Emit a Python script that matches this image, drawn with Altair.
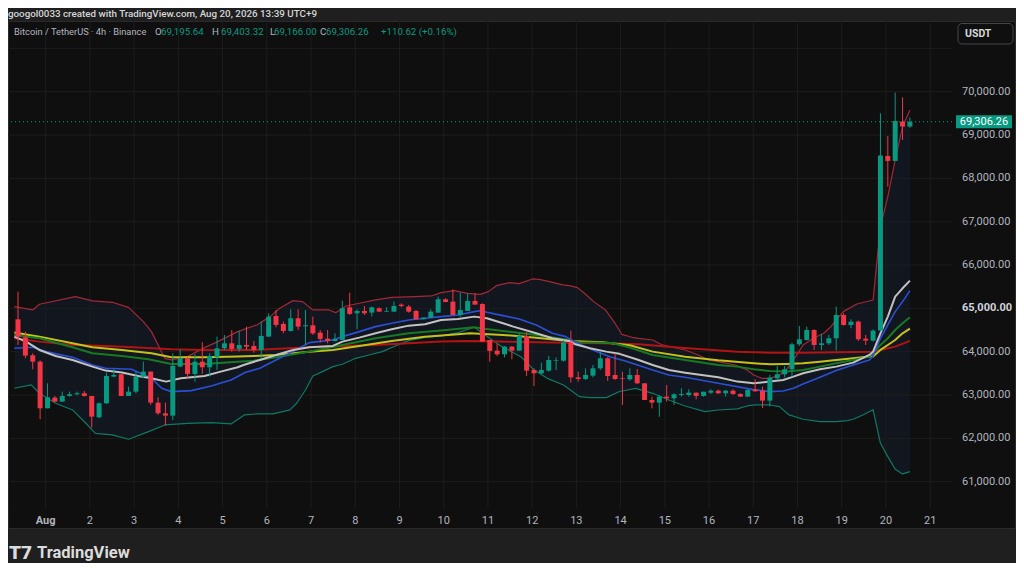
import altair as alt
import numpy as np
import pandas as pd

# ---------------- candles (BTC/USDT 4h, Binance, UTC+9) ----------------
START = "2026-07-31 09:00"
opens = [64747, 64332, 63917, 63770, 62693, 62940, 62847, 62978, 63017, 63040,
         62978, 62486, 62809, 63424, 63478, 62978, 63078, 63424, 63540, 62824,
         62578, 62524, 63655, 63847, 63486, 63770, 63640, 63870, 64078, 64193,
         64063, 64155, 64132, 64040, 64347, 64824, 64640, 64478, 64771, 64586,
         64609, 64440, 64301, 64247, 64271, 65024, 64886, 64940, 64901, 65001,
         64924, 64924, 65086, 65040, 64940, 64747, 64786, 64901, 65209, 65155,
         64847, 64940, 65171, 65101, 64271, 64024, 63939, 64116, 64024, 64362,
         63577, 63501, 63562, 63793, 63793, 64208, 63408, 63370, 63447, 63616,
         63847, 63462, 63393, 63362, 63462, 63270, 62885, 62824, 62962, 62924,
         63001, 63001, 63054, 62978, 63054, 63100, 63039, 63100, 63024, 62962,
         63131, 63100, 62870, 63386, 63478, 63593, 64170, 64270, 64501, 64155,
         64193, 64309, 64847, 64616, 64694, 64300, 64255, 64486, 68517, 68402,
         69309, 69195.64]
highs = [65386, 64463, 63963, 63800, 63270, 62978, 63078, 63078, 63078, 63093,
         62978, 62824, 63517, 63594, 63478, 63193, 63540, 63770, 63540, 62950,
         62824, 63963, 64055, 63870, 63940, 64217, 63963, 64347, 64386, 64501,
         64478, 64578, 64247, 64694, 64886, 64963, 64694, 64978, 64978, 64963,
         64809, 64501, 64501, 64424, 65178, 65363, 64978, 65055, 65040, 65024,
         65024, 65155, 65117, 65078, 64963, 64786, 64978, 65271, 65232, 65440,
         65363, 65347, 65347, 65117, 64271, 64178, 64131, 64131, 64424, 64485,
         63616, 63747, 63901, 63870, 64270, 64485, 63539, 63616, 63693, 64001,
         63870, 63962, 63539, 63616, 63601, 63270, 62962, 63001, 63231, 63039,
         63154, 63131, 63054, 63077, 63131, 63131, 63116, 63131, 63039, 63131,
         63362, 63193, 63463, 63670, 63670, 64209, 64593, 64578, 64516, 64409,
         64386, 65040, 64886, 64747, 64717, 64386, 64517, 69502, 68979, 69979,
         69871, 69403.32]
lows = [64155, 63847, 63594, 62440, 62693, 62832, 62847, 62963, 62990, 62963,
        62247, 62463, 62793, 63409, 62978, 62978, 63040, 63386, 62770, 62540,
        62293, 62424, 63640, 63386, 63309, 63486, 63424, 63580, 64040, 64001,
        64001, 64040, 63978, 63847, 64347, 64563, 64424, 64463, 64501, 64155,
        64386, 64209, 64193, 64232, 64271, 64847, 64517, 64847, 64809, 64924,
        64924, 64924, 65024, 64901, 64732, 64747, 64771, 64901, 65140, 64847,
        64809, 64940, 65086, 64232, 63770, 63901, 63870, 63824, 64024, 63439,
        63208, 63485, 63539, 63577, 63770, 63285, 63308, 63347, 63408, 63577,
        63324, 63347, 62770, 63331, 63254, 62885, 62693, 62500, 62847, 62770,
        62962, 62962, 62901, 62962, 63024, 63024, 62962, 63001, 62962, 62962,
        63077, 62700, 62732, 63363, 63409, 63424, 64132, 64255, 64040, 64040,
        64155, 64024, 64601, 64540, 64247, 64155, 64232, 64463, 67809, 68402,
        68886, 69166.00]
closes = [64347, 63909, 63770, 62693, 62947, 62847, 62978, 63017, 63040, 62978,
          62501, 62809, 63440, 63463, 62978, 63078, 63424, 63540, 62824, 62578,
          62524, 63670, 63847, 63486, 63770, 63640, 63901, 64078, 64193, 64063,
          64155, 64117, 64040, 64363, 64809, 64617, 64478, 64771, 64578, 64609,
          64424, 64294, 64247, 64294, 65001, 64871, 64940, 64886, 65024, 64924,
          64940, 65055, 65055, 64924, 64747, 64786, 64924, 65209, 65147, 64847,
          64963, 65171, 65086, 64232, 64017, 63939, 64116, 64024, 64362, 63562,
          63501, 63577, 63808, 63808, 64208, 63408, 63370, 63462, 63616, 63847,
          63439, 63370, 63377, 63462, 63270, 62885, 62824, 62962, 62924, 63016,
          63024, 63054, 62978, 63077, 63100, 63039, 63100, 63024, 62962, 63116,
          63085, 62870, 63401, 63478, 63593, 64170, 64286, 64501, 64155, 64193,
          64309, 64847, 64616, 64693, 64286, 64255, 64486, 68525, 68402, 69325,
          69195.64, 69306.26]

# ---------------- indicator lines (position = candle index, value = price) ----------------
bb_upper_idx = [-0.5, 2.0, 2.9, 7.8, 10.1, 12.8, 15.0, 17.0, 18.1, 19.9, 20.8, 23.0, 25.3, 27.1, 29.8,
                32.4, 34.2, 35.5, 37.3, 38.6, 40.0, 42.2, 43.1, 44.5, 46.3, 48.5, 50.7, 53.9, 56.1,
                57.4, 59.2, 61.0, 62.7, 63.8, 64.9, 66.7, 68.0, 69.8, 70.7, 72.1, 73.9, 74.8, 75.9,
                77.0, 78.1, 79.7, 81.0, 81.9, 83.3, 84.2, 86.1, 87.4, 90.5, 92.3, 93.7, 95.0, 97.3,
                98.9, 99.8, 100.9, 102.0, 103.3, 104.2, 105.5, 106.5, 107.9, 109.3, 110.2, 111.0,
                112.0, 113.8, 116.0, 117, 118, 119, 120, 121]
bb_upper = [65040, 64963, 65094, 65271, 65171, 65140, 65024, 64694, 64463, 63847, 63809, 63886, 64094,
            64232, 64463, 64617, 64809, 65001, 65178, 65155, 64963, 64963, 64901, 65055, 65117, 65194,
            65255, 65271, 65286, 65363, 65409, 65347, 65324, 65386, 65524, 65593, 65570, 65678, 65670,
            65617, 65540, 65524, 65478, 65324, 65155, 64963, 64655, 64401, 64332, 64309, 64270, 64155,
            64039, 63924, 63808, 63770, 63693, 63578, 63463, 63386, 63386, 63463, 63578, 63886, 64155,
            64309, 64424, 64563, 64732, 64930, 65100, 65193, 66886, 67578, 68425, 69194, 69579]
bb_lower_idx = [-0.5, 1.8, 2.9, 5.1, 7.4, 9.2, 10.5, 12.8, 15.0, 17.7, 19.9, 23.0, 26.2, 28.9, 30.7,
                32.4, 34.6, 36.9, 37.8, 39.0, 40.0, 41.3, 42.7, 44.0, 45.8, 47.6, 49.4, 51.2, 53.0,
                55.2, 57.4, 59.7, 61.9, 63.7, 65.5, 68.2, 70.0, 71.8, 74.0, 76.2, 77.6, 79.8, 81.6,
                83.8, 86.1, 88.3, 90.5, 93.2, 95.0, 97.6, 98.9, 100.0, 102.0, 103.3, 104.6, 106.5,
                108.8, 111.0, 112.5, 113.3, 114.6, 116.0, 117, 118, 119, 120, 121]
bb_lower = [63155, 63232, 63040, 62809, 62655, 62347, 62116, 62078, 61978, 62155, 62309, 62347, 62363,
            62332, 62540, 62563, 62563, 62655, 62809, 63116, 63440, 63540, 63655, 63709, 63847, 63924,
            64001, 64132, 64255, 64332, 64363, 64440, 64563, 64347, 64130, 63885, 63577, 63385, 63231,
            62962, 62939, 62939, 63080, 63154, 63039, 62885, 62747, 62616, 62654, 62680, 62747, 62770,
            62770, 62732, 62540, 62440, 62386, 62386, 62409, 62440, 62540, 62660, 61886, 61578, 61286,
            61178, 61232]
white_idx = [-0.5, 1.1, 2.9, 5.1, 7.4, 10.1, 11.9, 14.1, 16.3, 18.1, 20.1, 22.1, 25.3, 27.5, 29.8,
             30.6, 32.8, 35.0, 37.3, 39.5, 42.7, 44.0, 46.3, 48.5, 50.7, 53.0, 55.2, 57.4, 59.7, 61.9,
             63.6, 65.8, 67.2, 70.3, 72.5, 74.8, 75.6, 77.6, 79.8, 81.6, 84.0, 86.1, 88.3, 90.5, 95.0,
             97.6, 99.8, 102.0, 103.8, 105.2, 106.5, 108.8, 111.0, 113.3, 115.5, 116.0, 117, 118, 119,
             120, 121]
white_ma = [64347, 64232, 64040, 63901, 63809, 63655, 63563, 63517, 63440, 63386, 63309, 63386, 63440,
            63540, 63640, 63693, 63809, 63924, 64040, 64101, 64132, 64232, 64324, 64424, 64517, 64601,
            64632, 64732, 64755, 64809, 64770, 64655, 64578, 64424, 64309, 64247, 64170, 64078, 64001,
            63950, 63820, 63693, 63577, 63516, 63408, 63309, 63270, 63309, 63347, 63424, 63501, 63594,
            63655, 63747, 63924, 64001, 64424, 64809, 65270, 65463, 65640]
blue_idx = [-0.5, 2.0, 3.8, 7.4, 10.1, 11.9, 15.4, 18.1, 19.5, 20.8, 23.5, 26.2, 28.9, 30.8, 32.8,
            35.0, 37.3, 39.5, 42.7, 44.0, 46.3, 48.5, 50.7, 53.0, 55.2, 57.4, 59.7, 61.9, 62.8, 63.6,
            65.8, 68.0, 70.3, 72.5, 74.3, 75.6, 78.0, 80.3, 82.5, 86.1, 88.3, 90.5, 95.0, 99.6, 102.0,
            103.8, 105.2, 106.5, 108.8, 111.0, 113.3, 115.5, 116.0, 117, 118, 119, 120, 121]
blue_ma = [64078, 64101, 64001, 63870, 63694, 63617, 63594, 63386, 63155, 63078, 63101, 63209, 63347,
           63520, 63617, 63809, 64001, 64209, 64271, 64347, 64463, 64578, 64655, 64732, 64771, 64809,
           64847, 64924, 64947, 64909, 64832, 64755, 64616, 64424, 64347, 64216, 64039, 63885, 63780,
           63577, 63462, 63408, 63270, 63130, 63078, 63093, 63155, 63255, 63409, 63563, 63693, 63809,
           63900, 64309, 64617, 64924, 65155, 65409]
green_idx = [-0.5, 2.9, 7.4, 10.1, 14.1, 17.7, 20.8, 25.3, 29.8, 32.0, 35.0, 39.5, 44.0, 48.5, 53.0,
             57.4, 61.9, 63.6, 65.8, 70.3, 74.8, 76.1, 80.5, 82.9, 86.1, 90.5, 95.0, 97.6, 99.8, 102.0,
             104.2, 106.5, 108.8, 111.0, 113.3, 115.5, 116.0, 117, 118, 119, 120, 121]
green_ma = [64386, 64309, 64101, 63963, 63901, 63824, 63717, 63717, 63770, 63793, 63870, 64001, 64155,
            64309, 64424, 64486, 64563, 64524, 64478, 64386, 64270, 64216, 64200, 64100, 63924, 63808,
            63693, 63655, 63594, 63555, 63540, 63578, 63655, 63732, 63809, 63886, 63963, 64155, 64309,
            64501, 64655, 64794]
yellow_idx = [-0.5, 2.9, 7.4, 10.1, 14.1, 18.1, 20.8, 25.3, 29.8, 32.0, 35.0, 39.5, 42.7, 46.3, 50.7,
              55.2, 59.7, 61.3, 65.8, 70.3, 74.8, 79.3, 83.0, 86.1, 90.5, 95.0, 99.8, 102.0, 104.2,
              106.5, 108.8, 111.0, 113.3, 115.5, 116.0, 117, 118, 119, 120, 121]
yellow_ma = [64440, 64347, 64193, 64101, 64040, 63963, 63870, 63870, 63886, 63901, 63924, 64001, 64040,
             64132, 64247, 64347, 64401, 64424, 64386, 64324, 64247, 64216, 64150, 64001, 63885, 63800,
             63732, 63709, 63717, 63732, 63770, 63809, 63847, 63886, 63886, 64040, 64155, 64270, 64424,
             64532]
red_idx = [-0.5, 2.9, 7.4, 11.9, 16.3, 20.8, 25.3, 32.0, 39.5, 48.5, 57.4, 61.3, 70.3, 79.3, 84.2,
           90.0, 97.6, 102.0, 106.5, 111.0, 116.0, 117, 119, 121]
red_ma = [64309, 64232, 64155, 64132, 64094, 64055, 64040, 64040, 64101, 64155, 64232, 64247, 64216,
          64193, 64170, 64090, 64001, 63978, 63978, 63986, 64001, 64040, 64117, 64248]

# ---------------- axis ticks / labels ----------------
price_ticks = [61000, 62000, 63000, 64000, 65000, 66000, 67000, 68000, 69000, 70000]
price_labels = ["61,000.00", "62,000.00", "63,000.00", "64,000.00", "65,000.00",
                "66,000.00", "67,000.00", "68,000.00", "69,000.00", "70,000.00"]
price_bold = [False, False, False, False, True, False, False, False, False, False]
grid_prices = [61000, 62000, 63000, 64000, 65000, 66000, 67000, 68000, 69000, 70000, 71000]
day_ticks = list(range(1, 22))
day_labels = ["Aug", "2", "3", "4", "5", "6", "7", "8", "9", "10", "11", "12", "13", "14",
              "15", "16", "17", "18", "19", "20", "21"]
last_price = [69306.26]
last_label = ["69,306.26"]

# ---------------- styling ----------------
FONT = "Roboto"
OUTER = "#1f1f1f"
PANEL = "#0f0f0f"
GRID = "#1d1d1d"
UP = "#089981"
DOWN = "#f23645"
TXT = "#b2b5be"

start = pd.Timestamp(START)


def at(idx):
    return start + pd.to_timedelta(np.asarray(idx, dtype=float) * 4, unit="h")


xs = alt.Scale(domain=[alt.DateTime(year=2026, month=7, date=31, hours=6, minutes=17),
                       alt.DateTime(year=2026, month=8, date=21, hours=9, minutes=7)])
ys = alt.Scale(domain=[60392, 71632], nice=False, zero=False)
X = lambda f: alt.X(f, scale=xs, axis=None)
Y = lambda f: alt.Y(f, scale=ys, axis=None)

candles = pd.DataFrame({"t": at(range(len(opens))), "open": opens, "high": highs,
                        "low": lows, "close": closes})
candles["dir"] = np.where(candles["close"] >= candles["open"], "up", "down")
one = pd.DataFrame({"k": [0]})


def series(idx, vals):
    return pd.DataFrame({"t": at(list(idx)[:len(vals)]), "v": list(vals)[:len(idx)]})


def line(idx, vals, color, width):
    return alt.Chart(series(idx, vals)).mark_line(
        color=color, strokeWidth=width, clip=True, strokeJoin="round").encode(
        x=X("t:T"), y=Y("v:Q"))


def label(txt, x, y, color, size=10.5, weight="normal", align="left"):
    return alt.Chart(one).mark_text(
        text=txt, color=color, fontSize=size, fontWeight=weight, align=align,
        baseline="middle", font=FONT).encode(x=alt.value(x), y=alt.value(y))


panel = alt.Chart(one).mark_rect(fill=PANEL, stroke="#2a2a2a", strokeWidth=1).encode(
    x=alt.value(0.5), x2=alt.value(1007.5), y=alt.value(0.5), y2=alt.value(507.5))

bb_fill = alt.Chart(series(bb_upper_idx, bb_upper)).mark_area(color="#12161f", clip=True).encode(
    x=X("t:T"), y=Y("v:Q"), y2=alt.value(487))
bb_mask = alt.Chart(series(bb_lower_idx, bb_lower)).mark_area(color=PANEL, clip=True).encode(
    x=X("t:T"), y=Y("v:Q"), y2=alt.value(487))

hgrid = alt.Chart(pd.DataFrame({"p": grid_prices})).mark_rule(color=GRID, strokeWidth=1).encode(
    y=Y("p:Q"))
days_df = pd.DataFrame({"t": [pd.Timestamp(2026, 8, d) for d in day_ticks], "lab": day_labels})
vgrid = alt.Chart(days_df).mark_rule(color=GRID, strokeWidth=1).encode(x=X("t:T"))

upper_l = line(bb_upper_idx, bb_upper, "#a3283a", 1.2)
lower_l = line(bb_lower_idx, bb_lower, "#0f7a63", 1.2)
red_l = line(red_idx, red_ma, "#b01414", 2.0)
yellow_l = line(yellow_idx, yellow_ma, "#c2c21a", 2.0)
green_l = line(green_idx, green_ma, "#167a22", 2.0)
blue_l = line(blue_idx, blue_ma, "#2b50d8", 1.6)
white_l = line(white_idx, white_ma, "#c2c2c2", 2.0)

lp = pd.DataFrame({"p": last_price, "s": last_label})
price_line = alt.Chart(lp).mark_rule(color=UP, strokeDash=[1, 3], strokeWidth=1).encode(y=Y("p:Q"))

cscale = alt.Scale(domain=["up", "down"], range=[UP, DOWN])
wicks = alt.Chart(candles).mark_rule(strokeWidth=1).encode(
    x=X("t:T"), y=Y("low:Q"), y2="high:Q",
    color=alt.Color("dir:N", scale=cscale, legend=None))
bodies = alt.Chart(candles).mark_bar(size=5).encode(
    x=X("t:T"), y=Y("open:Q"), y2="close:Q",
    color=alt.Color("dir:N", scale=cscale, legend=None))

# price scale labels (right) and time labels (bottom)
pl_df = pd.DataFrame({"p": price_ticks, "lab": price_labels, "b": price_bold})
price_lab = alt.Chart(pl_df).transform_filter("!datum.b").mark_text(
    align="left", baseline="middle", font=FONT, fontSize=11, color=TXT).encode(
    x=alt.value(954), y=Y("p:Q"), text="lab:N")
price_lab_b = alt.Chart(pl_df).transform_filter("datum.b").mark_text(
    align="left", baseline="middle", font=FONT, fontSize=11, color="#d1d4dc",
    fontWeight="bold").encode(x=alt.value(954), y=Y("p:Q"), text="lab:N")
day_lab = alt.Chart(days_df).transform_filter("datum.lab != 'Aug'").mark_text(
    align="center", baseline="middle", font=FONT, fontSize=11, color=TXT).encode(
    x=X("t:T"), y=alt.value(499.5), text="lab:N")
day_lab_b = alt.Chart(days_df).transform_filter("datum.lab == 'Aug'").mark_text(
    align="center", baseline="middle", font=FONT, fontSize=11, color=TXT,
    fontWeight="bold").encode(x=X("t:T"), y=alt.value(499.5), text="lab:N")

tag = alt.Chart(lp).mark_rule(color=UP, strokeWidth=13).encode(
    x=alt.value(948), x2=alt.value(1004), y=Y("p:Q"))
tag_text = alt.Chart(lp).mark_text(color="#ffffff", fontSize=11, font=FONT, align="center",
                                   baseline="middle").encode(
    x=alt.value(976), y=Y("p:Q"), text="s:N")

usdt_box = alt.Chart(one).mark_rect(fill=PANEL, stroke="#474747", strokeWidth=1,
                                    cornerRadius=4).encode(
    x=alt.value(950), x2=alt.value(1005), y=alt.value(2.5), y2=alt.value(23))

LS = 9.7
texts = [
    label("googol0033 created with TradingView.com, Aug 20, 2026 13:39 UTC+9", 0, -7.5, "#d6d6d6", 9.8, 500),
    label("Bitcoin / TetherUS · 4h · Binance", 6, 11, TXT, 9.3),
    label("O", 147, 11, TXT, LS),
    label("69,195.64", 153, 11, UP, LS),
    label("H", 204, 11, TXT, LS),
    label("69,403.32", 213, 11, UP, LS),
    label("L", 262, 11, TXT, LS),
    label("69,166.00", 266, 11, UP, LS),
    label("C", 312, 11, TXT, LS),
    label("69,306.26", 318, 11, UP, LS),
    label("+110.62 (+0.16%)", 373, 11, UP, LS),
    label("USDT", 957, 12.7, "#d8d8d8", 10.5, "bold"),
    label("T", 1, 532, "#dcdcdc", 19, 900),
    label("7", 13, 532, "#dcdcdc", 19, 900),
    label("TradingView", 29, 532, "#dcdcdc", 16.5, "bold"),
]

chart = alt.layer(
    panel, bb_fill, bb_mask, hgrid, vgrid, upper_l, lower_l,
    red_l, yellow_l, green_l, blue_l, white_l, price_line,
    wicks, bodies, price_lab, price_lab_b, day_lab, day_lab_b,
    tag, tag_text, usdt_box, *texts
).properties(
    width=944, height=487,
    padding={"left": 0, "top": 13, "right": 64, "bottom": 55},
    autosize=alt.AutoSizeParams(type="none"),
).configure(background=OUTER).configure_view(strokeWidth=0)

chart.save("out.html", embed_options={"renderer": "svg", "actions": False})
